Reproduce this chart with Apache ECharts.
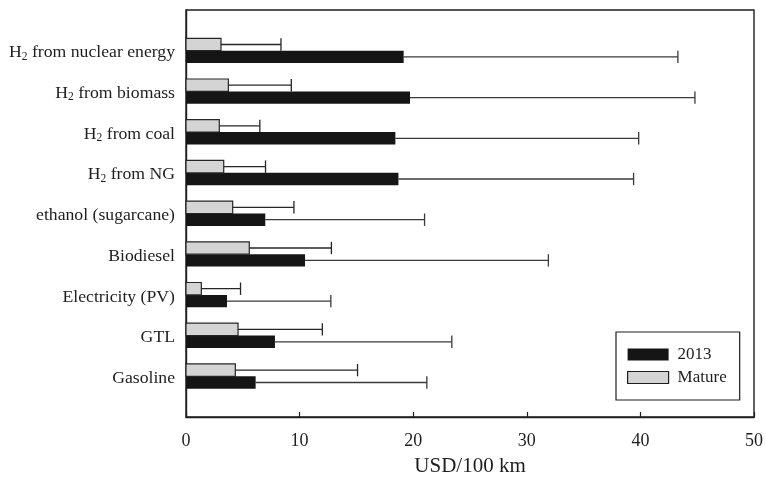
<!DOCTYPE html>
<html>
<head>
<meta charset="utf-8">
<script src="https://cdn.jsdelivr.net/npm/echarts@6/dist/echarts.min.js"></script>
<style>
  html, body { margin: 0; padding: 0; background: #fff; }
  #chart { width: 766px; height: 483px; }
</style>
</head>
<body>
<div id="chart"></div>
<script>
// Fuel pathways, listed from the bottom row to the top row
const categories = [
  'Gasoline', 'GTL', 'Electricity (PV)', 'Biodiesel', 'ethanol (sugarcane)',
  'H2 from NG', 'H2 from coal', 'H2 from biomass', 'H2 from nuclear energy'
];
// Cost per 100 km in USD (bar value) and the upper end of its range
const cost2013      = [6.13, 7.83, 3.61, 10.48, 6.98, 18.7, 18.43, 19.72, 19.16];
const upper2013     = [21.2, 23.4, 12.75, 31.9, 21.0, 39.4, 39.85, 44.8, 43.3];
const costMature    = [4.34, 4.58, 1.35, 5.57, 4.11, 3.32, 2.93, 3.73, 3.08];
const upperMature   = [15.1, 12.0, 4.8, 12.8, 9.5, 7.0, 6.5, 9.27, 8.36];
const xTicks = [0, 10, 20, 30, 40, 50];

const FONT = 'Liberation Serif';
const INK = '#1e1e1e';

function rows(values, uppers) {
  return values.map((v, i) => [v, i, uppers[i]]);
}

// Draws one bar with its range whisker; side = +1 below the row centre, -1 above
function makeRenderer(side, fill, stroke, whiskerColor) {
  return function (params, api) {
    const v = api.value(0), i = api.value(1), hi = api.value(2);
    const base = api.coord([0, i]);
    const end = api.coord([v, i]);
    const top = api.coord([hi, i]);
    const h = api.size([0, 1])[1] * 0.305;
    const y0 = side > 0 ? base[1] : base[1] - h;
    const mid = y0 + h / 2;
    return {
      type: 'group',
      children: [
        {
          type: 'line',
          shape: { x1: end[0], y1: mid, x2: top[0], y2: mid },
          style: { stroke: whiskerColor, lineWidth: 1.3 }
        },
        {
          type: 'line',
          shape: { x1: top[0], y1: mid - h / 2, x2: top[0], y2: mid + h / 2 },
          style: { stroke: whiskerColor, lineWidth: 1.3 }
        },
        {
          type: 'rect',
          shape: { x: base[0], y: y0, width: end[0] - base[0], height: h },
          style: { fill: fill, stroke: stroke, lineWidth: stroke === 'none' ? 0 : 1.2 }
        }
      ]
    };
  };
}

function categoryLabel(value) {
  const idx = Math.round(value);
  if (idx < 0 || idx >= categories.length) return '';
  const name = categories[idx];
  if (name.indexOf('H2') === 0) {
    return '{t|H}{s|2}{t|' + name.slice(2) + '}';
  }
  return '{t|' + name + '}';
}

const chart = echarts.init(document.getElementById('chart'), null, { renderer: 'canvas' });
chart.setOption({
  animation: false,
  backgroundColor: '#ffffff',
  grid: {
    left: 186, right: 12, top: 10, bottom: 66,
    show: true, borderColor: INK, borderWidth: 1.4, backgroundColor: 'transparent'
  },
  legend: {
    orient: 'vertical',
    left: 616, top: 332,
    padding: [14, 13, 14, 11],
    itemWidth: 41, itemHeight: 12, itemGap: 6,
    borderColor: INK, borderWidth: 1.2,
    icon: 'rect',
    textStyle: { fontFamily: FONT, fontSize: 17, color: INK, lineHeight: 16, padding: [0, 0, 0, 4] },
    data: [
      { name: '2013', itemStyle: { color: '#151515', borderWidth: 0 } },
      { name: 'Mature', itemStyle: { color: '#d4d4d4', borderColor: INK, borderWidth: 1.2 } }
    ]
  },
  xAxis: {
    type: 'value',
    min: xTicks[0], max: xTicks[xTicks.length - 1], interval: 10,
    name: 'USD/100 km',
    nameLocation: 'middle',
    nameGap: 39,
    nameTextStyle: { fontFamily: FONT, fontSize: 21, color: INK },
    axisLine: { show: true, onZero: false, lineStyle: { color: INK, width: 1.4 } },
    axisTick: { show: true, inside: true, length: 5, lineStyle: { color: INK, width: 1.2 } },
    axisLabel: { fontFamily: FONT, fontSize: 18, color: INK, margin: 15 },
    splitLine: { show: false }
  },
  yAxis: {
    type: 'value',
    min: -1, max: categories.length, interval: 1,
    axisLine: { show: true, onZero: false, lineStyle: { color: INK, width: 1.4 } },
    axisTick: { show: false },
    splitLine: { show: false },
    axisLabel: {
      margin: 11,
      padding: [4, 0, 0, 0],
      formatter: categoryLabel,
      rich: {
        t: { fontFamily: FONT, fontSize: 17.7, color: INK, lineHeight: 20 },
        s: { fontFamily: FONT, fontSize: 11.5, color: INK, lineHeight: 8, verticalAlign: 'bottom' }
      }
    }
  },
  series: [
    {
      name: '2013',
      type: 'custom',
      itemStyle: { color: '#151515' },
      renderItem: makeRenderer(1, '#151515', 'none', '#3a3a3a'),
      encode: { x: 0, y: 1 },
      data: rows(cost2013, upper2013),
      z: 2
    },
    {
      name: 'Mature',
      type: 'custom',
      itemStyle: { color: '#d4d4d4' },
      renderItem: makeRenderer(-1, '#d4d4d4', '#262626', '#262626'),
      encode: { x: 0, y: 1 },
      data: rows(costMature, upperMature),
      z: 3
    }
  ]
});
</script>
</body>
</html>
